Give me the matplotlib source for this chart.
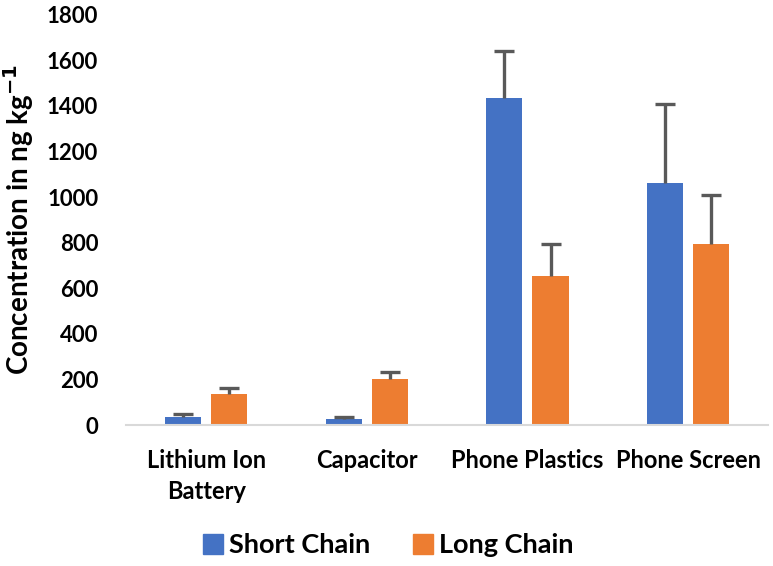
import numpy as np
import matplotlib.pyplot as plt
from matplotlib.patches import Patch

plt.rcParams['font.family'] = ['Lato', 'DejaVu Sans']
plt.rcParams['font.weight'] = 'bold'

# data
categories = ["Lithium Ion\nBattery", "Capacitor", "Phone Plastics", "Phone Screen"]
short_chain = [35, 28, 1433, 1064]
short_err = [14, 7, 207, 343]
long_chain = [137, 200, 655, 796]
long_err = [25, 33, 141, 215]

blue = '#4472C4'
orange = '#ED7D31'
err_col = '#595959'

fig = plt.figure(figsize=(7.73, 5.66), dpi=100)
ax = fig.add_axes([0.163, 0.249, 0.831, 0.725])

x = np.arange(len(categories))
w = 0.225
gap = 0.031
for xs, vals, errs, col in [(x - w / 2 - gap, short_chain, short_err, blue),
                            (x + w / 2 + gap, long_chain, long_err, orange)]:
    ax.bar(xs, vals, w, color=col, zorder=2)
    eb = ax.errorbar(xs, vals, yerr=[np.zeros(len(vals)), errs], fmt='none',
                     ecolor=err_col, elinewidth=2.4, capsize=7, capthick=2.4, zorder=3)
    eb[1][0].set_visible(False)  # hide the lower cap

ax.set_xlim(-0.5, 3.5)
ax.set_ylim(0, 1800)
ax.set_yticks(range(0, 1801, 200))
ax.set_xticks(x)
ax.set_xticklabels(categories, fontsize=17, fontweight='bold', linespacing=1.45)
ax.tick_params(axis='y', labelsize=16, length=0, pad=20)
ax.tick_params(axis='x', length=0, pad=17)
for s in ['top', 'right', 'left']:
    ax.spines[s].set_visible(False)
ax.spines['bottom'].set_color('#D9D9D9')
ax.spines['bottom'].set_linewidth(1.5)
ax.set_ylabel("Concentration in ng kg$^{\\mathbf{-1}}$", fontsize=20, fontweight='bold', labelpad=8)

handles = [Patch(color=blue, label='Short Chain'), Patch(color=orange, label='Long Chain')]
fig.legend(handles=handles, loc='center', bbox_to_anchor=(0.502, 0.037), ncol=2, frameon=False,
           prop={'size': 19.5, 'weight': 'bold'}, handlelength=0.75, handleheight=0.75,
           handletextpad=0.2, columnspacing=1.6)

fig.savefig('out.png', dpi=100)
